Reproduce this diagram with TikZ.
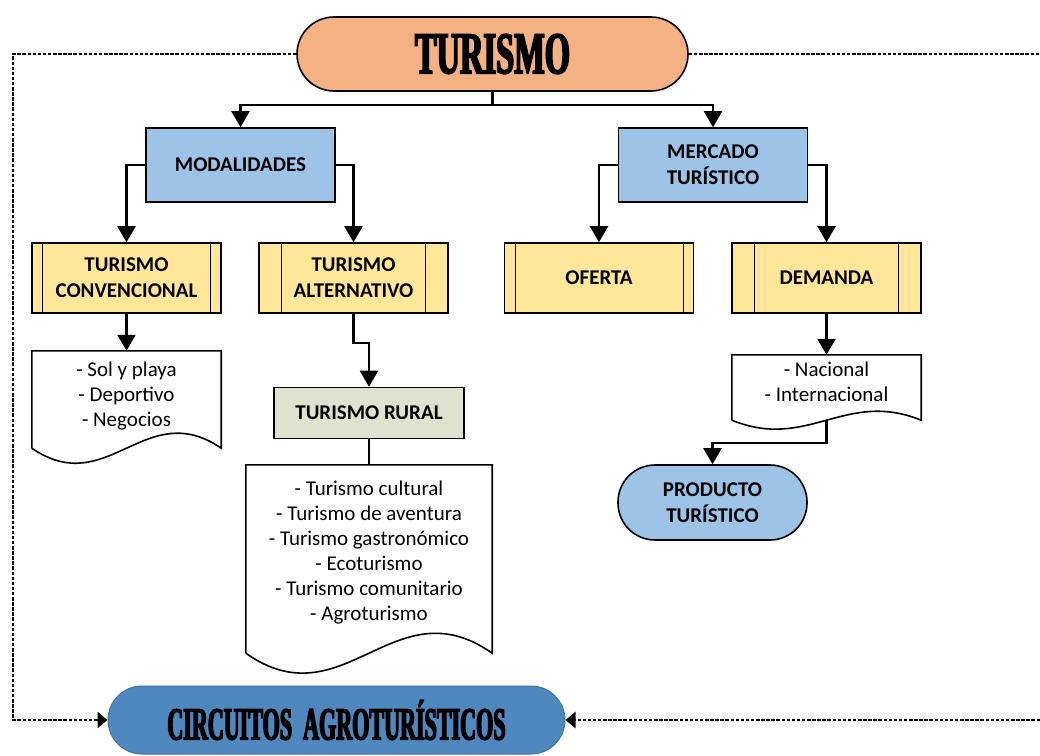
\documentclass[tikz,border=0pt]{standalone}
\usepackage{fontspec}
\setmainfont{Carlito}
\newfontfamily\headfont[FakeStretch=0.55,FakeBold=3]{Liberation Serif}
\newfontfamily\circfont[FakeStretch=0.48,FakeBold=3]{Liberation Serif}
\usepackage{tikz}
\usetikzlibrary{arrows.meta}
\definecolor{turorange}{HTML}{F4B183}
\definecolor{boxblue}{HTML}{9DC3E6}
\definecolor{procyellow}{HTML}{FFE699}
\definecolor{ruralgray}{HTML}{DEE2CE}
\definecolor{circblue}{HTML}{4F87BF}

\begin{document}
\begin{tikzpicture}[x=1pt, y=-1pt,
  box/.style={draw=black, line width=1.6pt, inner sep=0pt, align=center, font=\bfseries\fontsize{21}{26}\selectfont},
  hdrbox/.style={box, fill=boxblue, minimum width=189pt, minimum height=74pt},
  procbox/.style={box, fill=procyellow, minimum width=189pt, minimum height=70pt},
  pill/.style={box, rounded corners=37pt},
  doctext/.style={inner sep=0pt, align=center, font=\fontsize{21}{25}\selectfont},
  docline/.style={draw=black, line width=1.6pt},
  inner/.style={draw=black, line width=1.3pt},
  arr/.style={line width=2.2pt, -{Triangle[length=16pt,width=18pt]}},
  lnk/.style={line width=2.2pt},
  dots/.style={line width=2.6pt, dash pattern=on 3.5pt off 1.6pt},
  dotarr/.style={dots, -{Triangle[length=10pt,width=16pt]}}]
\useasboundingbox (0,0) rectangle (1040,755);

\node[pill, fill=turorange, minimum width=391pt, minimum height=74pt] (tur) at (492.5,54) {\headfont\bfseries\fontsize{59}{60}\selectfont TURISMO};

\node[hdrbox] (mod) at (240.5,165) {MODALIDADES};
\node[hdrbox] (mer) at (713,165) {MERCADO\\TURÍSTICO};

\node[procbox] (conv) at (126.5,278) {TURISMO\\CONVENCIONAL};
\node[procbox] (alt) at (353.5,278) {TURISMO\\ALTERNATIVO};
\node[procbox] (ofe) at (599,278) {OFERTA};
\node[procbox] (dem) at (826.5,278) {DEMANDA};

\draw[inner] ([xshift=11pt]conv.north west) -- ([xshift=11pt]conv.south west);
\draw[inner] ([xshift=-11pt]conv.north east) -- ([xshift=-11pt]conv.south east);
\draw[inner] ([xshift=23pt]alt.north west) -- ([xshift=23pt]alt.south west);
\draw[inner] ([xshift=-23pt]alt.north east) -- ([xshift=-23pt]alt.south east);
\draw[inner] ([xshift=12pt]ofe.north west) -- ([xshift=12pt]ofe.south west);
\draw[inner] ([xshift=-11pt]ofe.north east) -- ([xshift=-11pt]ofe.south east);
\draw[inner] ([xshift=23pt]dem.north west) -- ([xshift=23pt]dem.south west);
\draw[inner] ([xshift=-23pt]dem.north east) -- ([xshift=-23pt]dem.south east);

\node[doctext, minimum width=189pt, minimum height=97pt] (sol) at (126.5,399.5) {\raisebox{3pt}[\height][\depth]{\begin{tabular}{@{}c@{}}- Sol y playa\\- Deportivo\\- Negocios\end{tabular}}};
\node[box, fill=ruralgray, minimum width=190pt, minimum height=51pt] (rur) at (369,413) {TURISMO RURAL};
\node[doctext, minimum width=246pt, minimum height=188pt] (act) at (369,559) {\raisebox{6pt}[\height][\depth]{\begin{tabular}{@{}c@{}}- Turismo cultural\\- Turismo de aventura\\- Turismo gastronómico\\- Ecoturismo\\- Turismo comunitario\\- Agroturismo\end{tabular}}};
\node[doctext, minimum width=189pt, minimum height=65pt] (nac) at (826.5,387.5) {\raisebox{4pt}[\height][\depth]{\begin{tabular}{@{}c@{}}- Nacional\\- Internacional\end{tabular}}};

\draw[docline] (sol.south west) -- (sol.north west) -- (sol.north east) -- (sol.south east) .. controls +(-76,-52) and +(76,52) .. (sol.south west);
\draw[docline] (act.south west) -- (act.north west) -- (act.north east) -- (act.south east) .. controls +(-98,-69) and +(98,69) .. (act.south west);
\draw[docline] (nac.south west) -- (nac.north west) -- (nac.north east) -- (nac.south east) .. controls +(-76,-31) and +(76,31) .. (nac.south west);

\node[pill, fill=boxblue, minimum width=189pt, minimum height=75pt] (prod) at (712.5,502.5) {PRODUCTO\\TURÍSTICO};
\node[pill, draw=circblue!85!black, line width=1pt, fill=circblue, minimum width=457pt, minimum height=68pt, rounded corners=34pt] (circ) at (336.5,720) {\circfont\bfseries\fontsize{46}{48}\selectfont CIRCUITOS\ \ AGROTURÍSTICOS};

\coordinate (lcorner) at (13,54);
\coordinate (rtop) at (1040,54);
\coordinate (rbot) at (1040,720);

\draw[arr] (tur.south) -- ++(0,13) -| (mod.north);
\draw[arr] (tur.south) -- ++(0,13) -| (mer.north);
\draw[arr] (mod.west) -| (conv.north);
\draw[arr] (mod.east) -| (alt.north);
\draw[arr] (mer.west) -| (ofe.north);
\draw[arr] (mer.east) -| (dem.north);
\draw[arr] (conv.south) -- (sol.north);
\draw[arr] (alt.south) -- ++(0,29) -| (rur.north);
\draw[lnk] (rur.south) -- (act.north);
\draw[arr] (dem.south) -- (nac.north);
\draw[arr] (nac.south) -- ++(0,23) -| (prod.north);

\draw[dotarr] (tur.west) -- (lcorner) |- (circ.west);
\draw[dots] (tur.east) -- (rtop);
\draw[dotarr] (rbot) -- (circ.east);
\end{tikzpicture}
\end{document}
